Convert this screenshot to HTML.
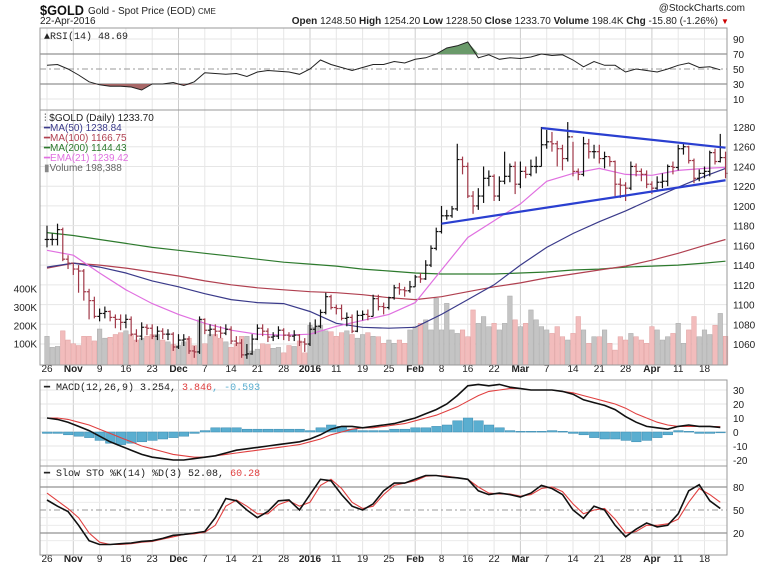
<!DOCTYPE html>
<html><head><meta charset="utf-8"><style>
body{margin:0;background:#fff;}
svg{display:block;font-family:"Liberation Sans",sans-serif;}
.t{font-size:10px;fill:#222}
.ax{font-size:10px;fill:#222}
.m{font-family:"Liberation Mono",monospace;font-size:10px}
</style></head><body>
<svg id="c" width="765" height="570" viewBox="0 0 765 570" xmlns="http://www.w3.org/2000/svg">
<rect width="765" height="570" fill="#fff"/>
<text x="40" y="15" font-size="14" font-weight="bold" fill="#111" textLength="44" lengthAdjust="spacingAndGlyphs">$GOLD</text>
<text x="88" y="14" class="t" font-size="9.5">Gold - Spot Price (EOD) <tspan font-size="8">CME</tspan></text>
<text x="40" y="24" class="t" font-size="9">22-Apr-2016</text>
<text x="745" y="11" class="t" font-size="9" fill="#777" text-anchor="end">@StockCharts.com</text>
<text x="718" y="24" class="t" font-size="9.5" text-anchor="end"><tspan font-weight="bold">Open</tspan> 1248.50 <tspan font-weight="bold">High</tspan> 1254.20 <tspan font-weight="bold">Low</tspan> 1228.50 <tspan font-weight="bold">Close</tspan> 1233.70 <tspan font-weight="bold">Volume</tspan> 198.4K <tspan font-weight="bold">Chg</tspan> -15.80 (-1.26%)</text>
<text x="721" y="24" font-size="8" fill="#c00">▼</text>
<g id="g"></g>
</svg>
<script>
const closes=[1166,1166,1176,1146,1142,1136,1134,1113,1104,1088,1091,1093,1087,1085,1082,1085,1070,1068,1077,1076,1068,1073,1070,1070,1057,1064,1065,1053,1052,1085,1074,1075,1073,1071,1075,1063,1061,1049,1050,1065,1076,1073,1067,1068,1074,1069,1068,1069,1062,1060,1075,1078,1092,1108,1097,1096,1086,1087,1073,1089,1090,1088,1106,1098,1097,1107,1117,1115,1114,1118,1128,1126,1140,1157,1174,1190,1190,1197,1247,1240,1210,1200,1210,1228,1230,1210,1225,1230,1240,1222,1235,1232,1240,1240,1262,1265,1263,1258,1248,1270,1235,1232,1263,1255,1255,1248,1250,1245,1222,1221,1218,1240,1235,1232,1222,1218,1224,1225,1240,1239,1258,1260,1246,1228,1233,1235,1254,1245,1249,1233];
const highs=[1180,1172,1182,1178,1150,1142,1140,1136,1116,1108,1096,1098,1094,1090,1090,1090,1088,1075,1082,1080,1080,1078,1076,1075,1072,1070,1070,1068,1058,1088,1086,1080,1080,1078,1080,1078,1068,1065,1060,1070,1080,1080,1076,1072,1078,1076,1072,1074,1070,1066,1082,1085,1095,1112,1110,1100,1100,1092,1090,1094,1094,1095,1110,1110,1102,1108,1120,1122,1118,1124,1130,1132,1145,1160,1178,1200,1196,1200,1263,1250,1244,1215,1218,1240,1236,1232,1230,1255,1243,1245,1245,1240,1247,1250,1280,1277,1275,1266,1262,1285,1265,1238,1270,1268,1262,1262,1255,1250,1246,1228,1224,1245,1243,1238,1236,1225,1230,1233,1242,1245,1262,1264,1261,1248,1237,1240,1256,1258,1273,1255];
const lows=[1158,1160,1160,1144,1136,1130,1112,1104,1085,1086,1083,1086,1083,1076,1074,1076,1068,1062,1064,1069,1065,1064,1065,1064,1053,1055,1058,1050,1046,1050,1070,1068,1068,1066,1069,1060,1058,1046,1045,1049,1064,1068,1062,1063,1065,1064,1063,1063,1058,1052,1058,1070,1076,1090,1095,1090,1084,1078,1071,1072,1084,1084,1088,1094,1090,1095,1105,1110,1108,1112,1118,1122,1125,1138,1155,1172,1186,1188,1195,1232,1208,1192,1196,1203,1220,1205,1205,1222,1224,1212,1218,1228,1230,1233,1240,1258,1255,1240,1236,1245,1230,1226,1230,1248,1248,1243,1238,1240,1210,1208,1205,1216,1230,1225,1218,1212,1215,1218,1220,1232,1236,1252,1243,1223,1225,1228,1230,1242,1244,1228];
const volumes=[140,80,85,170,120,100,90,140,140,115,180,130,135,150,160,170,150,120,130,140,150,150,120,110,95,90,110,130,90,230,100,150,150,130,110,80,100,140,140,60,70,100,95,75,80,50,90,85,115,50,200,190,200,170,165,140,160,170,150,130,150,160,140,138,102,120,102,120,102,175,193,211,230,175,348,175,320,175,156,175,138,284,211,248,193,211,175,211,360,230,193,211,284,230,193,175,156,193,138,120,156,248,175,102,138,138,175,102,65,138,120,156,138,120,102,193,175,120,138,156,211,102,175,248,138,175,150,200,265,140];
const maIdx=[0,5,10,15,20,25,30,35,40,45,50,55,60,65,70,75,80,85,90,95,100,105,110,115,120,125,129];
const ma200=[1173,1170,1166,1162,1158,1155,1152,1149,1146,1143,1141,1139,1136,1134,1132,1131,1131,1131,1132,1133,1135,1136,1138,1139,1140,1142,1144];
const ma100=[1137,1142,1140,1137,1133,1129,1124,1120,1117,1115,1113,1112,1110,1107,1105,1108,1113,1118,1122,1127,1131,1135,1139,1145,1152,1160,1166];
const ma50=[1138,1142,1138,1132,1124,1118,1111,1105,1102,1101,1093,1081,1077,1076,1077,1090,1105,1120,1140,1158,1172,1184,1195,1207,1219,1230,1238];
const ema21=[1155,1150,1132,1115,1101,1090,1081,1074,1070,1069,1070,1078,1084,1090,1102,1135,1168,1185,1202,1225,1233,1238,1232,1231,1236,1238,1239];
const trendUpper=[[94,1279],[129,1259]];
const trendLower=[[75,1182],[129,1226]];
const rsi=[55,56,50,42,33,29,27,27,26,22,30,30,32,28,33,45,44,43,44,40,46,48,47,46,43,50,62,56,52,48,52,56,56,60,58,63,65,70,78,81,86,65,69,63,65,64,66,70,68,69,62,53,60,55,55,46,50,48,46,50,55,58,52,53,49];
const macd=[10,9,7,4,1,-3,-7,-10,-13,-16,-18,-19,-20,-20,-19,-18,-17,-15,-13,-12,-11,-10,-9,-8,-7,-5,-2,2,4,4,3,4,5,6,8,10,13,16,20,26,33,34,33,34,32,31,30,30,30,29,27,23,21,19,16,11,7,4,3,2,4,5,4,4,3.3];
const signal=[10,10,9,7,5,2,-1,-4,-7,-10,-12,-14,-16,-17,-18,-18,-17,-16,-15,-14,-13,-12,-11,-10,-9,-7,-5,-2,0,2,3,3,4,5,6,8,10,12,15,18,22,26,29,30,31,31,30,30,30,29,28,26,24,22,20,17,13,10,7,5,4,4,4,4,3.8];
const hist=[-1,-1,-2,-3,-4,-6,-8,-9,-8,-7,-6,-5,-4,-3,-1,1,3,3,3,2,2,2,2,2,2,1,3,5,4,2,1,1,1,2,2,3,3,4,5,8,10,8,5,3,1,0.5,0.5,0.5,1,0.5,-1,-2,-4,-5,-5,-6,-7,-6,-4,-2,1,0.5,-1,-1,-0.6];
const stoK=[63,55,48,30,10,5,5,6,7,9,10,13,17,18,20,22,40,65,62,50,40,48,62,63,50,70,90,88,70,55,50,58,75,85,85,90,95,95,93,92,90,75,70,72,70,67,72,82,78,70,50,39,55,50,30,15,25,33,28,30,45,75,83,62,52];
const stoD=[72,62,52,40,20,8,5,5,6,8,9,12,15,18,19,21,30,55,63,55,45,45,57,62,55,60,82,90,78,60,52,55,70,82,85,88,94,95,94,92,90,80,72,71,71,68,70,78,80,74,58,45,50,52,38,20,22,30,30,32,38,60,78,70,60];
const dateLabels=['26','Nov','9','16','23','Dec','7','14','21','28','2016','11','19','25','Feb','8','16','22','Mar','7','14','21','28','Apr','11','18'];
const dateIdx=[0,5,10,15,20,25,30,35,40,45,50,55,60,65,70,75,80,85,90,95,100,105,110,115,120,125];
const priceTicks=[1060,1080,1100,1120,1140,1160,1180,1200,1220,1240,1260,1280];
const volTicks=[100,200,300,400];
const rsiTicks=[10,30,50,70,90];
const macdTicks=[-20,-10,0,10,20,30];
const stoTicks=[20,50,80];

const NS='http://www.w3.org/2000/svg';
const G=document.getElementById('g');
const L=40,R=727;
const X=i=>47+5.26*i;
const Yp=v=>127+(1280-v)*0.9865;
const Yv=k=>362-k*0.1833;
const Yr=v=>99-(v-10)*0.75;
const Ym=v=>432-v*1.4;
const Ys=v=>533-(v-20)*0.767;
function el(t,a,p){const e=document.createElementNS(NS,t);for(const k in a)e.setAttribute(k,a[k]);(p||G).appendChild(e);return e;}
function txt(x,y,s,cls,anchor,p){const e=el('text',{x:x,y:y,class:cls||'ax','text-anchor':anchor||'start'},p);e.textContent=s;return e;}
function poly(xs,ys,color,w){return el('polyline',{points:xs.map((x,k)=>x.toFixed(1)+','+ys[k].toFixed(1)).join(' '),fill:'none',stroke:color,'stroke-width':w||1});}
const panels=[[28,110],[110,365],[380,466],[466,555]];
panels.forEach(([t,b])=>{
  dateIdx.forEach((i,k)=>{const ln=el('line',{x1:X(i),x2:X(i),y1:t,y2:b,stroke:/[A-Za-z]|2016/.test(dateLabels[k])?'#ccc':'#e6e6e6','stroke-width':1});
    
    });
});
priceTicks.forEach(v=>{const ln=el('line',{x1:L,x2:R,y1:Yp(v),y2:Yp(v),stroke:'#e6e6e6'});
  
  
  const t=txt(733,Yp(v)+4,String(v));
  
  });
volTicks.forEach(v=>{const t=txt(37,Yv(v)+4,v+'K','ax','end');
  
  });
rsiTicks.forEach(v=>{const ln=el('line',{x1:L,x2:R,y1:Yr(v),y2:Yr(v),stroke:(v==30||v==70)?'#777':(v==50?'#999':'#e6e6e6'),'stroke-dasharray':v==50?'6,3,2,3':'none'});
  
  
  const t=txt(733,Yr(v)+4,String(v));
  
  });
macdTicks.forEach(v=>{const ln=el('line',{x1:L,x2:R,y1:Ym(v),y2:Ym(v),stroke:'#e6e6e6'});
  
  
  const t=txt(733,Ym(v)+4,String(v));
  
  });
[10,20,30,40,50,60,70,80,90].forEach(v=>{const ln=el('line',{x1:L,x2:R,y1:Ys(v),y2:Ys(v),stroke:(v==20||v==80)?'#777':(v==50?'#999':'#ececec'),'stroke-dasharray':v==50?'6,3,2,3':'none'});
  
  });
stoTicks.forEach(v=>{const t=txt(733,Ys(v)+4,String(v));
  
  });
[372,562].forEach(y=>dateLabels.forEach((s,k)=>{const bold=/[A-Za-z]|2016/.test(s);
  const t=txt(X(dateIdx[k]),y,s,'ax','middle');if(bold)t.setAttribute('font-weight','bold');
  
  }));
volumes.forEach((v,i)=>{const up=i==0||closes[i]>=closes[i-1];
  const r=el('rect',{x:X(i)-2.3,y:Yv(v),width:4.6,height:362-Yv(v)+3,fill:up?'#c4c4c4':'#f2bcbc',stroke:up?'#aaa':'#e0a0a0','stroke-width':0.5});
  
  });
const mx=maIdx.map(X);
[[ma200,'#2d7a2d'],[ma100,'#b04050'],[ma50,'#3a3a8a'],[ema21,'#e070e0']].forEach(([a,c],k)=>{const p=poly(mx,a.map(Yp),c,1.2);
  
  });
closes.forEach((c,i)=>{const up=i==0||c>=closes[i-1];const col=up?'#111':'#a03848';const o=i==0?c:closes[i-1];
  const g=el('g',{stroke:col,'stroke-width':1.2});
  
  
  el('line',{x1:X(i),x2:X(i),y1:Yp(highs[i]),y2:Yp(lows[i])},g);
  el('line',{x1:X(i)-2.3,x2:X(i),y1:Yp(o),y2:Yp(o)},g);
  el('line',{x1:X(i),x2:X(i)+2.3,y1:Yp(c),y2:Yp(c)},g);});
[[trendUpper,'upper-trendline'],[trendLower,'lower-trendline']].forEach(([t,n])=>{const ln=el('line',{x1:X(t[0][0]),y1:Yp(t[0][1]),x2:X(t[1][0]),y2:Yp(t[1][1]),stroke:'#2a3fd0','stroke-width':2.2});
  
  });
const sx=rsi.map((_,k)=>X(k*2));
const ry=rsi.map(Yr);
const y70=Yr(70),y30=Yr(30);
const dGreen='M'+sx.map((x,k)=>x+','+Math.min(ry[k],y70)).join(' L')+' L'+sx[sx.length-1]+','+y70+' L'+sx[0]+','+y70+'Z';
const dRed='M'+sx.map((x,k)=>x+','+Math.max(ry[k],y30)).join(' L')+' L'+sx[sx.length-1]+','+y30+' L'+sx[0]+','+y30+'Z';
const fg=el('path',{d:dGreen,fill:'#6a9a6a',stroke:'none'});


const fr=el('path',{d:dRed,fill:'#a86868',stroke:'none'});


const rl=poly(sx,ry,'#222',1);


hist.forEach((h,k)=>{const y0=Ym(0),y1=Ym(h);
  const r=el('rect',{x:sx[k]-4.6,y:Math.min(y0,y1),width:9.6,height:Math.max(0.8,Math.abs(y1-y0)),fill:'#5aaed0',stroke:'#3a8ab0','stroke-width':0.5});
  
  });
const ml2=poly(sx,signal.map(Ym),'#e04040',1.1);


const ml=poly(sx,macd.map(Ym),'#111',1.6);


const sd=poly(sx,stoD.map(Ys),'#e04040',1.1);


const sk=poly(sx,stoK.map(Ys),'#111',1.6);


panels.forEach(([t,b])=>{const r=el('rect',{x:L,y:t,width:R-L,height:b-t,fill:'none',stroke:'#999','stroke-width':1});
  
  });
function leg(x,y,parts,name,cls){const t=el('text',{x:x,y:y,class:cls||'m'});
  parts.forEach(([s,c])=>{const ts=el('tspan',{fill:c},t);ts.textContent=s;});}
leg(44,39,[['▲RSI(14) 48.69','#222']],'rsi-legend');
leg(44,121,[['⫶ $GOLD (Daily) 1233.70','#222']],'price-legend','t');
leg(44,131,[['━','#3a3a8a'],['MA(50) 1238.84','#3a3a8a']],'ma50-legend','t');
leg(44,141,[['━','#b04050'],['MA(100) 1166.75','#b04050']],'ma100-legend','t');
leg(44,151,[['━','#2d7a2d'],['MA(200) 1144.43','#2d7a2d']],'ma200-legend','t');
leg(44,161,[['━','#e070e0'],['EMA(21) 1239.42','#e070e0']],'ema21-legend','t');
leg(44,171,[['▮','#888'],['Volume 198,388','#666']],'volume-legend','t');
leg(44,390,[['━ MACD(12,26,9) 3.254, ','#222'],['3.846','#e04040'],[', -0.593','#5aaed0']],'macd-legend');
leg(44,476,[['━ Slow STO %K(14) %D(3) 52.08, ','#222'],['60.28','#e04040']],'sto-legend');
</script>
</body></html>
